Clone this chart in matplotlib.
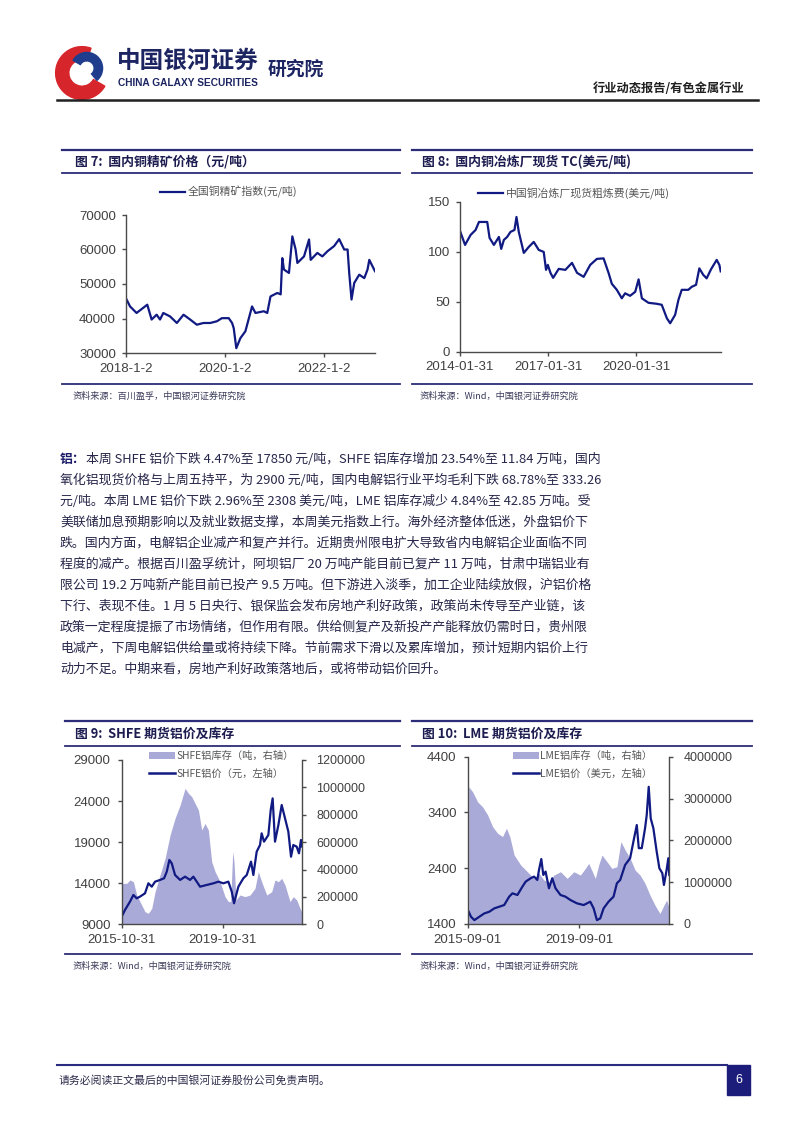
import matplotlib
matplotlib.use("Agg")
import matplotlib.pyplot as plt
import matplotlib.dates as mdates
import pandas as pd
from matplotlib.patches import Patch, Rectangle, Wedge
from matplotlib.lines import Line2D
from matplotlib.ticker import StrMethodFormatter

plt.rcParams['font.family'] = ['Liberation Sans', 'Noto Sans CJK SC', 'DejaVu Sans']
CJK = ['Noto Sans CJK SC', 'DejaVu Sans']

# ---- data: figure 7, domestic copper concentrate index (yuan/t) ----
fig7_dates = ["2018-01-02", "2018-02-03", "2018-03-23", "2018-06-10", "2018-07-12", "2018-08-18",
              "2018-09-12", "2018-10-06", "2018-11-25", "2019-01-14", "2019-03-04", "2019-04-22",
              "2019-06-10", "2019-07-29", "2019-09-17", "2019-11-05", "2019-12-12", "2020-01-31",
              "2020-02-25", "2020-03-08", "2020-03-27", "2020-04-26", "2020-06-02", "2020-07-21",
              "2020-08-15", "2020-10-16", "2020-11-10", "2020-12-04", "2021-01-23", "2021-02-17",
              "2021-03-01", "2021-03-13", "2021-04-19", "2021-05-14", "2021-06-07", "2021-06-20",
              "2021-08-08", "2021-09-14", "2021-09-26", "2021-11-14", "2021-12-21", "2022-01-28",
              "2022-03-18", "2022-04-24", "2022-05-31", "2022-06-25", "2022-07-07", "2022-07-24",
              "2022-08-13", "2022-09-19", "2022-10-26", "2022-11-19", "2022-12-02", "2022-12-26",
              "2023-01-13"]
fig7_values = [46000, 43500, 41600, 44000, 39700, 41100, 39700, 41600, 40600, 38700, 41100, 39700,
               38200, 38700, 38700, 39200, 40100, 40100, 38700, 37200, 31400, 34300, 36300, 43500,
               41600, 42100, 41600, 46400, 47400, 47000, 57500, 54200, 53200, 63800, 60000, 56100,
               58000, 62900, 57000, 59000, 58000, 59500, 61000, 63000, 60000, 60000, 53200, 45500,
               50300, 52700, 51700, 54200, 57000, 55100, 53700]
fig7_xticks = ["2018-1-2", "2020-1-2", "2022-1-2"]
fig7_yticks = [30000, 40000, 50000, 60000, 70000]

# ---- data: figure 8, smelter spot TC (usd/t) ----
fig8_dates = ["2014-01-31", "2014-04-04", "2014-06-12", "2014-08-13", "2014-09-24", "2015-01-05",
              "2015-02-03", "2015-03-29", "2015-05-30", "2015-06-28", "2015-07-31", "2015-09-10",
              "2015-10-21", "2015-12-10", "2016-01-04", "2016-02-02", "2016-04-04", "2016-06-05",
              "2016-08-06", "2016-10-07", "2016-12-08", "2017-01-06", "2017-01-28", "2017-03-02",
              "2017-04-04", "2017-06-13", "2017-09-03", "2017-11-25", "2018-01-27", "2018-04-19",
              "2018-07-10", "2018-10-01", "2018-12-23", "2019-02-23", "2019-04-05", "2019-06-06",
              "2019-08-07", "2019-09-17", "2019-11-18", "2020-01-21", "2020-03-03", "2020-04-13",
              "2020-07-04", "2020-10-15", "2020-12-16", "2021-02-18", "2021-03-31", "2021-06-01",
              "2021-07-12", "2021-08-22", "2021-11-12", "2021-12-24", "2022-02-16", "2022-03-29",
              "2022-05-17", "2022-06-28", "2022-08-21", "2022-10-31", "2022-12-03", "2022-12-20"]
fig8_values = [121, 107, 117, 122, 130, 130, 114, 107, 115, 103, 112, 115, 120, 122, 135, 120,
               99, 105, 110, 102, 100, 82, 87, 79, 74, 83, 82, 89, 79, 75, 87, 93, 93.5, 79, 68,
               62, 53.5, 58.5, 56, 60, 72.5, 53.5, 49, 48, 47, 33.5, 28.5, 37, 52, 62, 62, 65, 67,
               83.5, 77, 73.5, 82.5, 92, 87, 80.5]
fig8_xticks = ["2014-01-31", "2017-01-31", "2020-01-31"]
fig8_yticks = [0, 50, 100, 150]

# ---- data: figure 9, SHFE aluminium price (left) and stock (right) ----
fig9_price_dates = ["2015-10-31", "2015-12-18", "2016-02-28", "2016-04-17", "2016-06-04", "2016-07-22",
                    "2016-10-02", "2016-11-20", "2017-01-08", "2017-02-25", "2017-05-08", "2017-07-05",
                    "2017-08-13", "2017-09-20", "2017-10-24", "2017-12-11", "2018-02-22", "2018-05-05",
                    "2018-07-16", "2018-09-02", "2018-12-08", "2019-03-14", "2019-06-19", "2019-08-30",
                    "2019-11-10", "2020-01-21", "2020-03-10", "2020-04-12", "2020-06-14", "2020-08-25",
                    "2020-10-13", "2020-12-14", "2021-01-17", "2021-03-06", "2021-04-23", "2021-05-17",
                    "2021-06-20", "2021-08-22", "2021-09-25", "2021-10-23", "2021-11-26", "2022-01-14",
                    "2022-03-03", "2022-04-20", "2022-06-07", "2022-07-16", "2022-08-18", "2022-10-06",
                    "2022-11-08", "2022-12-07", "2022-12-26"]
fig9_price = [9930, 10750, 11760, 12570, 12160, 12370, 12770, 13990, 13580, 14190, 14400, 14600,
              15410, 16830, 16420, 15000, 14400, 14800, 14400, 14800, 13580, 13790, 13990, 14190,
              13990, 14190, 12980, 11560, 13580, 14600, 15000, 16630, 15000, 17840, 18650, 20070,
              19060, 19870, 22910, 24330, 19060, 21090, 23520, 21900, 20280, 17230, 18650, 18450,
              17640, 19260, 18450]
fig9_stock_dates = ["2015-10-31", "2016-01-11", "2016-02-28", "2016-04-17", "2016-06-04", "2016-08-15",
                    "2016-10-02", "2016-11-20", "2017-01-08", "2017-02-25", "2017-05-08", "2017-07-20",
                    "2017-09-30", "2017-12-11", "2018-02-22", "2018-05-05", "2018-06-22", "2018-08-09",
                    "2018-09-26", "2018-11-14", "2019-01-01", "2019-02-18", "2019-04-07", "2019-05-25",
                    "2019-07-13", "2019-09-23", "2019-12-04", "2020-01-21", "2020-02-24", "2020-03-24",
                    "2020-04-12", "2020-05-11", "2020-07-08", "2020-09-18", "2020-11-30", "2021-02-10",
                    "2021-03-30", "2021-05-17", "2021-07-29", "2021-10-09", "2021-11-26", "2022-01-14",
                    "2022-03-03", "2022-04-20", "2022-07-01", "2022-08-18", "2022-10-06", "2022-11-13",
                    "2022-12-26"]
fig9_stock = [299000, 299000, 324000, 311000, 214000, 141000, 92000, 80000, 117000, 238000, 360000,
              482000, 652000, 774000, 871000, 993000, 957000, 932000, 884000, 835000, 689000, 737000,
              689000, 458000, 385000, 311000, 202000, 166000, 166000, 531000, 458000, 178000, 214000,
              202000, 214000, 263000, 385000, 311000, 214000, 238000, 324000, 311000, 336000, 287000,
              166000, 202000, 178000, 129000, 80000]
fig9_xticks = ["2015-10-31", "2019-10-31"]
fig9_left_ticks = [9000, 14000, 19000, 24000, 29000]
fig9_right_ticks = [0, 200000, 400000, 600000, 800000, 1000000, 1200000]

# ---- data: figure 10, LME aluminium price (left) and stock (right) ----
fig10_price_dates = ["2015-09-14", "2015-10-14", "2015-11-27", "2016-01-31", "2016-04-05", "2016-06-09",
                     "2016-08-13", "2016-10-17", "2016-12-21", "2017-02-24", "2017-04-08", "2017-06-12",
                     "2017-08-16", "2017-09-28", "2017-12-02", "2018-01-15", "2018-02-27", "2018-03-21",
                     "2018-04-20", "2018-05-16", "2018-06-15", "2018-07-29", "2018-09-10", "2018-10-23",
                     "2018-12-27", "2019-03-02", "2019-05-06", "2019-07-31", "2019-10-26", "2020-01-20",
                     "2020-03-04", "2020-04-16", "2020-05-29", "2020-07-12", "2020-09-15", "2020-11-19",
                     "2021-01-02", "2021-02-14", "2021-04-20", "2021-06-24", "2021-08-15", "2021-09-19",
                     "2021-10-15", "2021-11-23", "2022-01-05", "2022-01-27", "2022-02-22", "2022-03-20",
                     "2022-04-24", "2022-06-06", "2022-07-11", "2022-08-19", "2022-09-09", "2022-10-14",
                     "2022-11-05", "2022-11-18"]
fig10_price = [1620, 1530, 1470, 1530, 1590, 1620, 1680, 1710, 1740, 1890, 1950, 1920, 2070, 2160,
               2220, 2250, 2190, 2370, 2565, 2280, 2340, 2040, 2220, 2040, 1920, 1890, 1830, 1770,
               1740, 1800, 1680, 1470, 1500, 1680, 1800, 1890, 2130, 2190, 2460, 2580, 2940, 3175,
               2760, 2760, 3115, 3355, 3860, 3295, 3115, 2700, 2400, 2310, 2100, 2370, 2580, 2280]
fig10_stock_dates = ["2015-09-14", "2015-11-05", "2016-01-09", "2016-03-14", "2016-05-18", "2016-07-22",
                     "2016-09-25", "2016-11-29", "2017-01-20", "2017-03-04", "2017-04-30", "2017-07-25",
                     "2017-10-20", "2018-01-15", "2018-03-21", "2018-05-25", "2018-07-29", "2018-10-02",
                     "2018-12-27", "2019-03-24", "2019-06-19", "2019-09-13", "2019-11-17", "2019-12-31",
                     "2020-03-26", "2020-05-09", "2020-06-21", "2020-08-25", "2020-10-29", "2021-01-02",
                     "2021-02-23", "2021-04-20", "2021-06-24", "2021-08-28", "2021-11-01", "2022-01-05",
                     "2022-03-11", "2022-05-15", "2022-07-19", "2022-09-09", "2022-10-14", "2022-11-18"]
fig10_stock = [3280000, 3160000, 2920000, 2800000, 2610000, 2330000, 2170000, 2090000, 2290000,
               2090000, 1650000, 1410000, 1250000, 1090000, 1210000, 1050000, 1010000, 1170000,
               1250000, 1090000, 1250000, 1170000, 1330000, 1450000, 1090000, 1410000, 1650000,
               1490000, 1330000, 1370000, 1970000, 1770000, 1570000, 1290000, 1170000, 970000,
               690000, 450000, 250000, 450000, 570000, 370000]
fig10_xticks = ["2015-09-01", "2019-09-01"]
fig10_left_ticks = [1400, 2400, 3400, 4400]
fig10_right_ticks = [0, 1000000, 2000000, 3000000, 4000000]

# ---- page text ----
body_lines = [
    "本周 SHFE 铝价下跌 4.47%至 17850 元/吨，SHFE 铝库存增加 23.54%至 11.84 万吨，国内",
    "氧化铝现货价格与上周五持平，为 2900 元/吨，国内电解铝行业平均毛利下跌 68.78%至 333.26",
    "元/吨。本周 LME 铝价下跌 2.96%至 2308 美元/吨，LME 铝库存减少 4.84%至 42.85 万吨。受",
    "美联储加息预期影响以及就业数据支撑，本周美元指数上行。海外经济整体低迷，外盘铝价下",
    "跌。国内方面，电解铝企业减产和复产并行。近期贵州限电扩大导致省内电解铝企业面临不同",
    "程度的减产。根据百川盈孚统计，阿坝铝厂 20 万吨产能目前已复产 11 万吨，甘肃中瑞铝业有",
    "限公司 19.2 万吨新产能目前已投产 9.5 万吨。但下游进入淡季，加工企业陆续放假，沪铝价格",
    "下行、表现不佳。1 月 5 日央行、银保监会发布房地产利好政策，政策尚未传导至产业链，该",
    "政策一定程度提振了市场情绪，但作用有限。供给侧复产及新投产产能释放仍需时日，贵州限",
    "电减产，下周电解铝供给量或将持续下降。节前需求下滑以及累库增加，预计短期内铝价上行",
    "动力不足。中期来看，房地产利好政策落地后，或将带动铝价回升。",
]

W, H = 802, 1134
LINE_C = '#101a82'
AREA_C = '#aaaad8'
RULE_C = '#2c2c78'
TITLE_C = '#1c1c50'
TICK_C = '#404040'
SPINE_C = '#4a4a4a'
BODY_FS = 9.3


def fx(x):
    return x / W


def fy(y):
    return 1 - y / H


def rect(l, t, r, b):
    return [l / W, 1 - b / H, (r - l) / W, (b - t) / H]


def hline(fig, x0, x1, y, lw, color=RULE_C):
    fig.add_artist(Line2D([fx(x0), fx(x1)], [fy(y), fy(y)], lw=lw, color=color))


def block(fig, x0, x1, top, title, under, bottom, source, tx):
    hline(fig, x0, x1, top, 1.6)
    fig.text(fx(tx), fy((top + under) / 2 + 0.5), title, fontsize=9.3, fontweight='bold',
             color=TITLE_C, va='center', family=CJK)
    hline(fig, x0, x1, under, 1.3)
    hline(fig, x0, x1, bottom, 1.3)
    fig.text(fx(tx - 2), fy(bottom + 12), source, fontsize=6.6, style='italic',
             color='#3a3a5a', va='center', family=CJK)


def style_axes(ax, start, end, tick_labels):
    ax.set_xlim(mdates.date2num(pd.Timestamp(start)), mdates.date2num(pd.Timestamp(end)))
    ticks = [mdates.date2num(pd.Timestamp(t)) for t in tick_labels]
    ax.set_xticks(ticks)
    ax.set_xticklabels(tick_labels)
    for side in ['top', 'right']:
        ax.spines[side].set_visible(False)
    for side in ['left', 'bottom']:
        ax.spines[side].set_color(SPINE_C)
        ax.spines[side].set_linewidth(1.0)
    ax.tick_params(axis='both', colors=SPINE_C, labelcolor=TICK_C, labelsize=9.5,
                   length=3, width=1.0, direction='out', pad=4)


def dnum(dates):
    return mdates.date2num(pd.to_datetime(dates))


fig = plt.figure(figsize=(W / 100, H / 100), dpi=100)

# ---- header ----
logo = fig.add_axes(rect(53, 44, 111, 102))
logo.set_xlim(-1.1, 1.1)
logo.set_ylim(-1.1, 1.1)
logo.set_aspect('equal')
logo.axis('off')
logo.add_patch(Wedge((0, 0), 1.0, 70, 330, width=0.5, color='#d6262c'))
logo.add_patch(Wedge((0.18, 0.18), 0.6, -50, 150, width=0.32, color='#1f3d8c'))
fig.text(fx(117), fy(61), "中国银河证券", fontsize=17, fontweight='bold', color='#1c2462',
         va='center', family=CJK)
fig.text(fx(118), fy(83), "CHINA GALAXY SECURITIES", fontsize=7.3, fontweight='bold',
         color='#1c2462', va='center')
fig.text(fx(268), fy(69), "研究院", fontsize=13.5, fontweight='bold', color='#1c2462',
         va='center', family=CJK)
fig.text(fx(745), fy(88), "行业动态报告/有色金属行业", fontsize=8.8, fontweight='bold',
         color='#202020', va='center', ha='right', family=CJK)
hline(fig, 57, 758, 100, 1.8, color='#202020')

# ---- figure 7 ----
block(fig, 62, 400, 150, "图 7:  国内铜精矿价格（元/吨）", 173, 384,
      "资料来源：百川盈孚，中国银河证券研究院", 75)
ax7 = fig.add_axes(rect(125.7, 215, 375, 353))
ax7.plot(dnum(fig7_dates), fig7_values, color=LINE_C, lw=1.6)
ax7.set_ylim(fig7_yticks[0], fig7_yticks[-1])
ax7.set_yticks(fig7_yticks)
style_axes(ax7, fig7_xticks[0], fig7_dates[-1], fig7_xticks)
ax7.legend([Line2D([], [], color=LINE_C, lw=1.6)], ["全国铜精矿指数(元/吨)"],
           loc='center left', bbox_to_anchor=(fx(160), fy(192)), bbox_transform=fig.transFigure,
           frameon=False, handlelength=2.3, handletextpad=0.3, borderpad=0,
           borderaxespad=0, labelcolor='#555555', prop={'family': CJK, 'size': 7.8})

# ---- figure 8 ----
block(fig, 412, 752, 150, "图 8:  国内铜冶炼厂现货 TC(美元/吨)", 173, 384,
      "资料来源：Wind，中国银河证券研究院", 422)
ax8 = fig.add_axes(rect(460, 202, 720.7, 351.7))
ax8.plot(dnum(fig8_dates), fig8_values, color=LINE_C, lw=1.6)
ax8.set_ylim(fig8_yticks[0], fig8_yticks[-1])
ax8.set_yticks(fig8_yticks)
style_axes(ax8, fig8_xticks[0], fig8_dates[-1], fig8_xticks)
ax8.legend([Line2D([], [], color=LINE_C, lw=1.6)], ["中国铜冶炼厂现货粗炼费(美元/吨)"],
           loc='center left', bbox_to_anchor=(fx(478), fy(193)), bbox_transform=fig.transFigure,
           frameon=False, handlelength=2.3, handletextpad=0.3, borderpad=0,
           borderaxespad=0, labelcolor='#555555', prop={'family': CJK, 'size': 7.8})

# ---- body paragraph ----
fig.text(fx(60), fy(459), "铝：", fontsize=BODY_FS, fontweight='bold', color='#1c1c6a',
         va='center', family=CJK)
for i, line in enumerate(body_lines):
    x0 = 86 if i == 0 else 60
    fig.text(fx(x0), fy(459 + 21 * i), line, fontsize=BODY_FS, color='#26264a', va='center',
             family=CJK)


def dual_panel(ax, price_dates, price, stock_dates, stock, left_ticks, right_ticks,
               xticks, start, end, labels, lx, fs):
    ax2 = ax.twinx()
    ax2.fill_between(dnum(stock_dates), 0, stock, color=AREA_C, lw=0)
    ax.plot(dnum(price_dates), price, color=LINE_C, lw=1.6)
    ax.set_zorder(ax2.get_zorder() + 1)
    ax.patch.set_visible(False)
    ax.set_ylim(left_ticks[0], left_ticks[-1])
    ax.set_yticks(left_ticks)
    ax2.set_ylim(right_ticks[0], right_ticks[-1])
    ax2.set_yticks(right_ticks)
    ax2.yaxis.set_major_formatter(StrMethodFormatter('{x:.0f}'))
    style_axes(ax, start, end, xticks)
    ax.tick_params(axis='y', pad=5)
    for side in ['top', 'left', 'bottom']:
        ax2.spines[side].set_visible(False)
    ax2.spines['right'].set_color(SPINE_C)
    ax2.spines['right'].set_linewidth(1.0)
    ax2.tick_params(axis='y', colors=SPINE_C, labelcolor=TICK_C, labelsize=9,
                    length=3, width=1.0, pad=7)
    ax.legend([Patch(facecolor=AREA_C, lw=0), Line2D([], [], color=LINE_C, lw=1.8)], labels,
              loc='upper left', bbox_to_anchor=(fx(lx), fy(751)), bbox_transform=fig.transFigure,
              frameon=False, handlelength=2.5, handleheight=0.7, handletextpad=0.15,
              labelspacing=0.75, borderpad=0, borderaxespad=0, labelcolor='#555555',
              prop={'family': CJK, 'size': fs})


# ---- figure 9 ----
block(fig, 65, 400, 721, "图 9:  SHFE 期货铝价及库存", 746, 954,
      "资料来源：Wind，中国银河证券研究院", 75)
ax9 = fig.add_axes(rect(121.7, 760, 302.3, 924.3))
dual_panel(ax9, fig9_price_dates, fig9_price, fig9_stock_dates, fig9_stock,
           fig9_left_ticks, fig9_right_ticks, fig9_xticks, fig9_xticks[0],
           fig9_stock_dates[-1], ["SHFE铝库存（吨，右轴）", "SHFE铝价（元，左轴）"], 149, 7.4)

# ---- figure 10 ----
block(fig, 412, 752, 721, "图 10:  LME 期货铝价及库存", 746, 954,
      "资料来源：Wind，中国银河证券研究院", 422)
ax10 = fig.add_axes(rect(467.7, 756.7, 669.3, 924))
dual_panel(ax10, fig10_price_dates, fig10_price, fig10_stock_dates, fig10_stock,
           fig10_left_ticks, fig10_right_ticks, fig10_xticks, fig10_xticks[0],
           fig10_stock_dates[-1], ["LME铝库存（吨，右轴）", "LME铝价（美元，左轴）"], 513, 7.4)

# ---- footer ----
hline(fig, 57, 727, 1065, 1.5, color='#2a2a80')
fig.text(fx(59), fy(1080), "请务必阅读正文最后的中国银河证券股份公司免责声明。", fontsize=7.8,
         color='#2a2a4a', va='center', family=CJK)
fig.add_artist(Rectangle((fx(727), fy(1095)), (750 - 727) / W, 30 / H, color='#1c1c7a',
                         transform=fig.transFigure))
fig.text(fx(738.5), fy(1080), "6", fontsize=9, color='white', ha='center', va='center')

fig.savefig("out.png", dpi=100)
